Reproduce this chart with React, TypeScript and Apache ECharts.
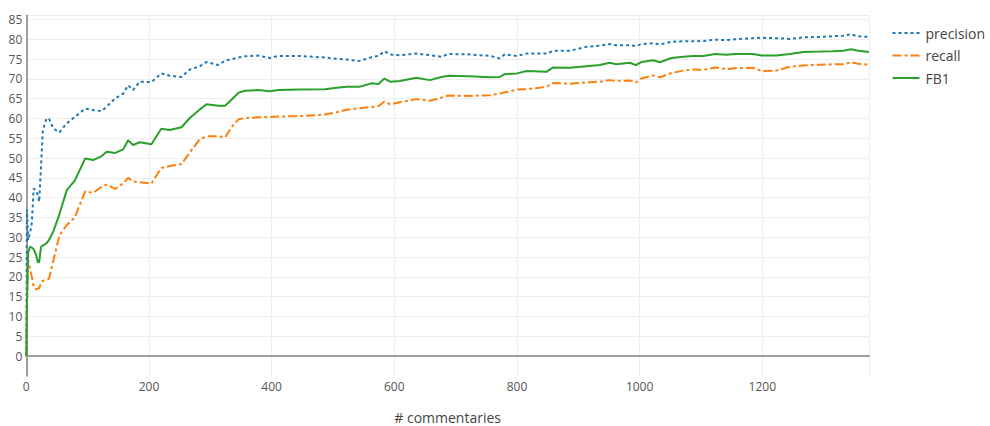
import React, { useEffect, useRef } from "react";
import * as echarts from "echarts";

const commentaries = [0, 1, 3, 6, 9, 12, 16, 19, 21, 24, 27, 33, 37, 44, 54, 66, 79, 96, 109, 123, 131, 145, 158, 166, 174, 185, 204, 220, 234, 253, 267, 283, 294, 313, 324, 335, 346, 356, 378, 397, 411, 446, 487, 506, 522, 543, 563, 574, 584, 593, 609, 636, 658, 677, 688, 723, 756, 772, 780, 800, 816, 848, 859, 886, 913, 935, 951, 962, 984, 994, 1003, 1022, 1033, 1052, 1071, 1087, 1104, 1123, 1142, 1155, 1185, 1199, 1223, 1245, 1267, 1294, 1315, 1332, 1345, 1354, 1374];

const precision = [0, 37, 29.3, 31, 33.6, 42.3, 41.9, 40.5, 39, 47.8, 57.1, 60, 60, 57.5, 56.5, 58.8, 60.4, 62.5, 62.1, 61.9, 63, 65.1, 66.3, 68.4, 67.2, 69.3, 69.2, 71.4, 70.8, 70.5, 72.4, 73.2, 74.3, 73.5, 74.6, 75, 75.4, 75.7, 75.9, 75.3, 75.8, 75.8, 75.4, 75.1, 74.9, 74.5, 75.5, 75.8, 77, 76.2, 76, 76.4, 76, 75.6, 76.3, 76.2, 75.8, 75.2, 76.2, 75.8, 76.4, 76.4, 77.1, 77.1, 78.1, 78.4, 78.8, 78.5, 78.5, 78.3, 78.8, 79, 78.7, 79.4, 79.5, 79.5, 79.6, 79.9, 79.8, 80, 80.3, 80.4, 80.3, 80.1, 80.5, 80.6, 80.8, 80.9, 81.3, 80.8, 80.6];

const recall = [0, 12, 24.3, 22, 20, 17.5, 16.8, 17.1, 17.1, 18.5, 19, 19.2, 19.5, 24, 30.5, 33.1, 35, 41.6, 41.2, 42.8, 43.3, 42.2, 43.6, 45, 44.1, 43.9, 43.6, 47.5, 48, 48.5, 51.5, 54.8, 55.5, 55.5, 55.2, 57.9, 59.8, 60.1, 60.3, 60.4, 60.5, 60.6, 61, 61.6, 62.2, 62.6, 62.9, 63.1, 64.3, 63.6, 64.1, 64.9, 64.5, 65.3, 65.8, 65.7, 65.9, 66.3, 66.6, 67.3, 67.4, 68, 69, 68.8, 69.1, 69.3, 69.7, 69.5, 69.6, 69.1, 70.1, 70.9, 70.4, 71.5, 72.1, 72.4, 72.3, 72.9, 72.5, 72.7, 72.8, 72, 72.1, 73.1, 73.4, 73.6, 73.7, 73.7, 74.2, 73.9, 73.6];

const fb1 = [0, 13, 26, 27.6, 27.4, 27, 25.5, 23.7, 23.7, 27.6, 27.9, 28.5, 29.3, 31.5, 35.8, 41.9, 44.3, 49.9, 49.5, 50.5, 51.6, 51.3, 52.2, 54.5, 53.3, 54, 53.5, 57.4, 57.1, 57.8, 60.2, 62.3, 63.6, 63.2, 63.2, 64.8, 66.5, 67, 67.2, 66.9, 67.2, 67.3, 67.4, 67.8, 68, 68, 68.9, 68.7, 70.1, 69.3, 69.5, 70.3, 69.7, 70.5, 70.8, 70.7, 70.4, 70.5, 71.2, 71.4, 72, 71.8, 72.9, 72.8, 73.2, 73.5, 74.1, 73.7, 74.1, 73.5, 74.3, 74.7, 74.2, 75.3, 75.6, 75.8, 75.8, 76.3, 76.1, 76.3, 76.3, 75.9, 75.9, 76.3, 76.8, 76.9, 77, 77.1, 77.5, 77.2, 76.8];

const seriesNames = ["precision", "recall", "FB1"];
const xTicks = [0, 200, 400, 600, 800, 1000, 1200];

const FONT = '"Open Sans", "Noto Sans", sans-serif';

export default function App() {
  const ref = useRef<HTMLDivElement>(null);
  useEffect(() => {
    if (!ref.current) return;
    const chart = echarts.init(ref.current, undefined, { renderer: "svg" });
    const pair = (ys: number[]) => commentaries.map((x, i) => [x, ys[i]]);
    chart.setOption({
      animation: false,
      backgroundColor: "#fff",
      textStyle: { fontFamily: FONT },
      grid: { left: 26.3, right: 121, top: 15.6, bottom: 50.2, outerBoundsMode: "none", containLabel: false },
      legend: {
        orient: "vertical",
        left: 891.5,
        top: 26,
        padding: 0,
        itemWidth: 27,
        itemHeight: 14,
        itemGap: 8.5,
        data: seriesNames,
        itemStyle: { opacity: 0 },
        textStyle: { fontFamily: FONT, fontSize: 14, color: "#444", padding: [0, 0, 0, 1] },
      },
      xAxis: {
        type: "value",
        min: 0,
        max: 1374,
        interval: 200,
        name: "# commentaries",
        nameLocation: "middle",
        nameGap: 34,
        nameTextStyle: { fontFamily: FONT, fontSize: 14, lineHeight: 15, color: "#444" },
        axisLine: { show: true, onZero: true, lineStyle: { color: "#a0a0a0", width: 2 } },
        axisTick: { show: false },
        axisLabel: {
          fontFamily: FONT,
          fontSize: 12,
          color: "#555",
          margin: 5,
          formatter: (v: number) => (xTicks.includes(v) ? String(v) : ""),
        },
        splitLine: { show: true, lineStyle: { color: "#eeeeee", width: 1 } },
      },
      yAxis: {
        type: "value",
        min: -5,
        max: 86,
        interval: 5,
        axisLine: { show: true, onZero: false, lineStyle: { color: "#a0a0a0", width: 2 } },
        axisTick: { show: false },
        axisLabel: {
          fontFamily: FONT,
          fontSize: 12,
          color: "#555",
          margin: 4,
          formatter: (v: number) => (v < 0 || v > 85 ? "" : String(v)),
        },
        splitLine: {
          show: true,
          lineStyle: {
            color: ["rgba(0,0,0,0)", "rgba(0,0,0,0)"].concat(Array(18).fill("#eeeeee")),
            width: 1,
          },
        },
      },
      series: [
        {
          name: "precision",
          type: "line",
          data: pair(precision),
          symbol: "none",
          color: "#1f77b4",
          lineStyle: { width: 2, type: [3, 3], color: "#1f77b4" },
          z: 3,
        },
        {
          name: "recall",
          type: "line",
          data: pair(recall),
          symbol: "none",
          color: "#ff7f0e",
          lineStyle: { width: 2, type: [9, 3, 3, 3], color: "#ff7f0e" },
          z: 3,
        },
        {
          name: "FB1",
          type: "line",
          data: pair(fb1),
          symbol: "none",
          color: "#2ca02c",
          lineStyle: { width: 2, type: "solid", color: "#2ca02c" },
          z: 3,
        },
      ],
    });
    return () => chart.dispose();
  }, []);
  return (
    <div
      ref={ref}
      style={{ position: "fixed", left: 0, top: 0, width: 990, height: 426, background: "#fff" }}
    />
  );
}
